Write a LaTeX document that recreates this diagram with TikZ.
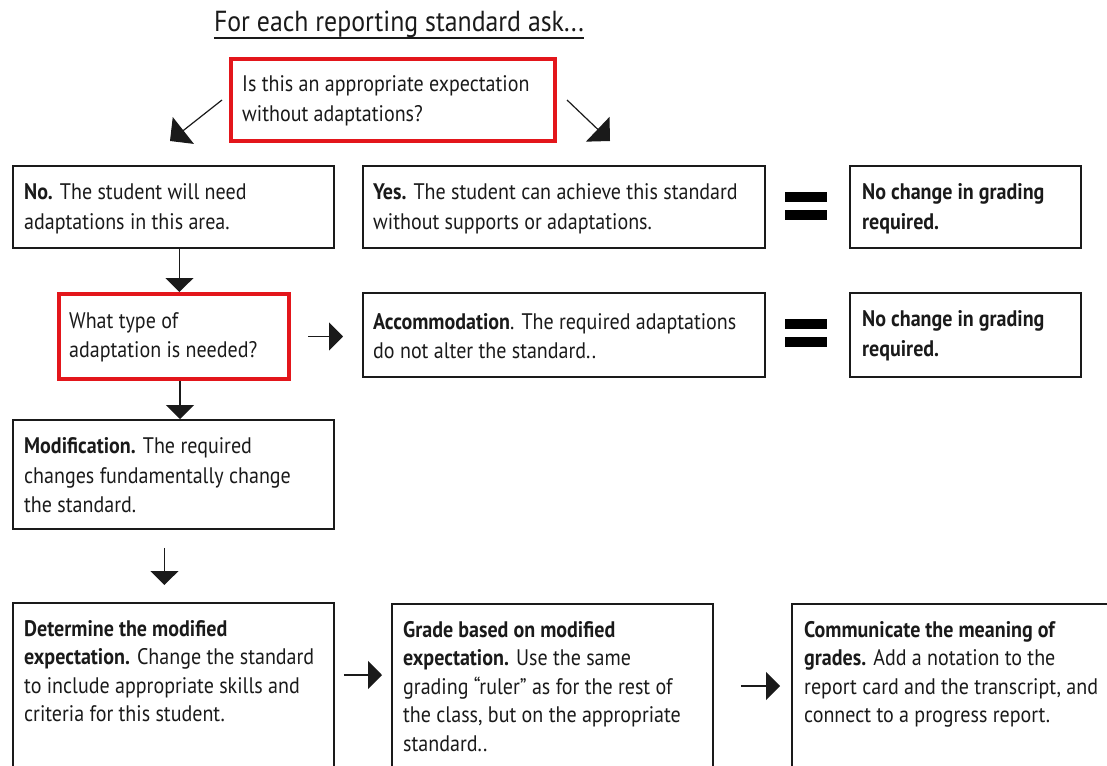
\documentclass[tikz,border=0pt]{standalone}
\usepackage{fontspec}
\setmainfont[FakeStretch=0.89]{PT Sans}
\usetikzlibrary{arrows.meta}
\definecolor{ink}{HTML}{1A1A1A}
\definecolor{redline}{HTML}{E3161B}
\begin{document}
\begin{tikzpicture}[x=1pt,y=-1pt,
  bx/.style={draw=ink, line width=1.8pt, anchor=north west, inner sep=0pt},
  rbx/.style={draw=redline, line width=4pt, anchor=north west, inner sep=0pt},
  txt/.style={anchor=west, inner sep=0pt, align=left, text=ink, font=\fontsize{22.5}{29.5}\selectfont},
  ttxt/.style={anchor=north west, inner sep=0pt, align=left, text=ink, font=\fontsize{22.5}{28.5}\selectfont},
  arr/.style={draw=ink, line width=1.4pt, -{Triangle[length=14pt,width=28pt]}},
  darr/.style={draw=ink, line width=1.2pt, -{Triangle[length=17pt,width=34pt]}},
  eqbar/.style={fill=black, draw=none, minimum width=42pt, minimum height=9.5pt, inner sep=0pt, anchor=north west}]
\useasboundingbox (0,0) rectangle (1107,765);
\clip (0,0) rectangle (1107,765);

% title
\node[anchor=base, inner sep=0pt, text=ink, font=\fontsize{29}{34}\selectfont] (title) at (399,32) {For each reporting standard ask...};
\draw[ink, line width=1.8pt] ([yshift=-6pt]title.base west) -- ([yshift=-6pt]title.base east);

% first question
\node[rbx, minimum width=324pt, minimum height=82pt] (q1) at (229,57) {};
\node[txt] (q1t) at ([xshift=13pt,yshift=-1pt]q1.west) {Is this an appropriate expectation\\without adaptations?};

% row 1
\node[bx, minimum width=321pt, minimum height=82pt] (no) at (12,165) {};
\node[txt] (not) at ([xshift=12pt,yshift=-2pt]no.west) {\textbf{No.} The student will need\\adaptations in this area.};
\node[bx, minimum width=402pt, minimum height=82pt] (yes) at (362,165) {};
\node[txt] (yest) at ([xshift=11pt,yshift=-2pt]yes.west) {\textbf{Yes.} The student can achieve this standard\\without supports or adaptations.};
\node[eqbar] (eq1a) at (785,192) {};
\node[eqbar] (eq1b) at (785,210) {};
\node[bx, minimum width=231pt, minimum height=82pt] (nc1) at (849,165) {};
\node[txt] (nc1t) at ([xshift=13pt,yshift=-2pt]nc1.west) {\textbf{No change in grading}\\\textbf{required.}};

% row 2
\node[rbx, minimum width=230pt, minimum height=85pt] (q2) at (57,292) {};
\node[txt] (q2t) at ([xshift=12pt,yshift=-1pt]q2.west) {What type of\\adaptation is needed?};
\node[bx, minimum width=402pt, minimum height=84pt] (acc) at (362,292) {};
\node[txt] (acct) at ([xshift=11pt,yshift=-1pt]acc.west) {\textbf{Accommodation}. The required adaptations\\do not alter the standard..};
\node[eqbar] (eq2a) at (785,319) {};
\node[eqbar] (eq2b) at (785,337) {};
\node[bx, minimum width=231pt, minimum height=84pt] (nc2) at (849,292) {};
\node[txt] (nc2t) at ([xshift=13pt,yshift=-1pt]nc2.west) {\textbf{No change in grading}\\\textbf{required.}};

% modification
\node[bx, minimum width=321pt, minimum height=109pt] (mod) at (12,419) {};
\node[txt] (modt) at ([xshift=12pt,yshift=-1pt]mod.west) {\textbf{Modification.} The required\\changes fundamentally change\\the standard.};

% bottom row
\node[bx, minimum width=321pt, minimum height=250pt] (det) at (12,602) {};
\node[ttxt] (dett) at ([xshift=12pt,yshift=-18pt]det.north west) {\textbf{Determine the modified}\\\textbf{expectation.} Change the standard\\to include appropriate skills and\\criteria for this student.};
\node[bx, minimum width=321pt, minimum height=250pt] (grade) at (391,603) {};
\node[ttxt] (gradet) at ([xshift=12pt,yshift=-18pt]grade.north west) {\textbf{Grade based on modified}\\\textbf{expectation.} Use the same\\grading “ruler” as for the rest of\\the class, but on the appropriate\\standard..};
\node[bx, minimum width=400pt, minimum height=250pt] (comm) at (791,603) {};
\node[ttxt] (commt) at ([xshift=13pt,yshift=-18pt]comm.north west) {\textbf{Communicate the meaning of}\\\textbf{grades.} Add a notation to the\\report card and the transcript, and\\connect to a progress report.};

% connectors
\coordinate (ltip) at (170,141);
\coordinate (rtip) at (610,141);
\draw[darr] ([xshift=-7pt]q1.west) -- (ltip);
\draw[darr] ([xshift=10pt]q1.east) -- (rtip);
\draw[arr] ([xshift=6pt]no.south) -- ([xshift=6pt]no.south |- q2.north);
\draw[arr] ([xshift=6pt]q2.south) -- ([xshift=6pt]q2.south |- mod.north);
\draw[arr, shorten <=17pt, shorten >=19pt] (q2.east) -- (q2.east -| acc.west);
\draw[arr, shorten <=18pt, shorten >=17pt] ([xshift=-9pt]mod.south) -- ([xshift=-9pt]mod.south |- det.north);
\draw[arr, shorten <=9pt, shorten >=9pt] ([yshift=-73pt]det.north east) -- ([yshift=-73pt]det.north east -| grade.west);
\draw[arr, shorten <=27pt, shorten >=11pt] ([yshift=-83pt]grade.north east) -- ([yshift=-83pt]grade.north east -| comm.west);
\end{tikzpicture}
\end{document}
